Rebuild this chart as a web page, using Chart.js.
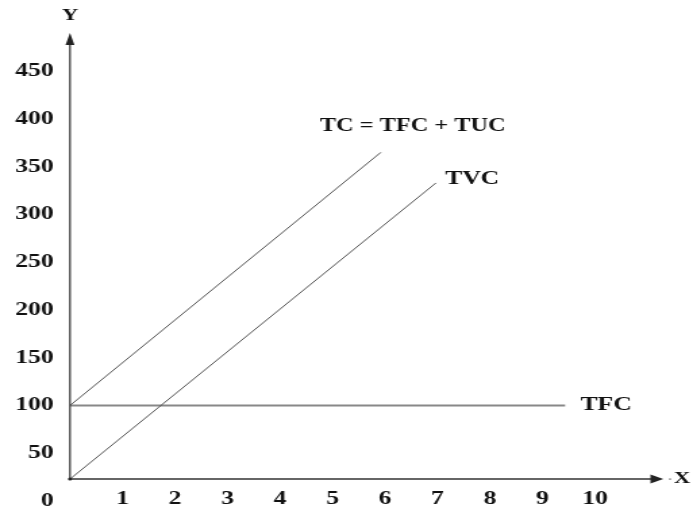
<!DOCTYPE html>
<html><head><meta charset="utf-8">
<script src="https://cdn.jsdelivr.net/npm/chart.js@4/dist/chart.umd.min.js"></script>
<style>
html,body{margin:0;padding:0;background:#fff;overflow:hidden}
#wrap{width:693px;height:513px;overflow:hidden;position:relative}
#c{display:block;transform:scaleX(1.3509);transform-origin:0 0}
</style></head><body>
<div id="wrap"><canvas id="c" width="513" height="513"></canvas></div>
<script>
// tick labels
const xTickValues = [1, 2, 3, 4, 5, 6, 7, 8, 9, 10];
const yTickValues = [0, 50, 100, 150, 200, 250, 300, 350, 400, 450];
// series (quantity X, cost Y)
const tcX  = [0, 5.92];
const tcY  = [100, 365];
const tvcX = [0, 6.97];
const tvcY = [23, 333];
const tfcX = [0, 9.43];
const tfcY = [100, 100];
// the axes cross at this Y value
const axisCrossY = 23;
// curve labels
const labelTexts = ['TC = TFC + TUC', 'TVC', 'TFC'];
const labelX = [6.53, 7.66, 10.21];
const labelY = [392, 337, 100];

const toPts = (xs, ys) => xs.map((v, i) => ({x: v, y: ys[i]}));
const FONT = '"Liberation Serif", "Times New Roman", serif';

const overlay = {
  id: 'overlay',
  afterDatasetsDraw(chart) {
    const {ctx, scales: {x, y}, chartArea} = chart;
    const x0 = x.getPixelForValue(0);
    const y0 = y.getPixelForValue(axisCrossY);
    const top = chartArea.top, right = chartArea.right;
    ctx.save();
    // y axis
    ctx.strokeStyle = '#333'; ctx.lineWidth = 1.2;
    ctx.beginPath(); ctx.moveTo(x0, y0); ctx.lineTo(x0, top + 8); ctx.stroke();
    ctx.fillStyle = '#222';
    ctx.beginPath(); ctx.moveTo(x0, top); ctx.lineTo(x0 - 3.3, top + 12); ctx.lineTo(x0 + 3.3, top + 12); ctx.closePath(); ctx.fill();
    // x axis
    ctx.strokeStyle = '#666'; ctx.lineWidth = 2;
    ctx.beginPath(); ctx.moveTo(x0, y0); ctx.lineTo(right - 6, y0); ctx.stroke();
    ctx.fillStyle = '#222';
    ctx.beginPath(); ctx.moveTo(right, y0); ctx.lineTo(right - 9.5, y0 - 4.5); ctx.lineTo(right - 9.5, y0 + 4.5); ctx.closePath(); ctx.fill();
    // origin dot
    ctx.beginPath(); ctx.arc(x0, y0, 1.5, 0, Math.PI * 2); ctx.fill();
    // small dot before X
    ctx.fillStyle = '#888';
    ctx.beginPath(); ctx.arc(right + 5, y0, 0.9, 0, Math.PI * 2); ctx.fill();
    // axis names
    ctx.fillStyle = '#111';
    ctx.textAlign = 'center'; ctx.textBaseline = 'middle';
    ctx.font = 'bold 17px ' + FONT;
    ctx.fillText('Y', x0, top - 17);
    ctx.fillText('X', right + 14, y0);
    // curve labels
    labelTexts.forEach((t, i) => {
      ctx.font = (i === 0 ? 'bold 18px ' : 'bold 19px ') + FONT;
      ctx.fillText(t, x.getPixelForValue(labelX[i]), y.getPixelForValue(labelY[i]));
    });
    ctx.restore();
  }
};

new Chart(document.getElementById('c'), {
  type: 'scatter',
  data: {
    datasets: [
      {label: 'TC', data: toPts(tcX, tcY), showLine: true, borderColor: '#555', borderWidth: 1, pointRadius: 0},
      {label: 'TVC', data: toPts(tvcX, tvcY), showLine: true, borderColor: '#555', borderWidth: 1, pointRadius: 0},
      {label: 'TFC', data: toPts(tfcX, tfcY), showLine: true, borderColor: '#888', borderWidth: 2, pointRadius: 0}
    ]
  },
  options: {
    responsive: false,
    devicePixelRatio: 1,
    animation: false,
    layout: {padding: {top: 33, bottom: 12, left: 0, right: 22}},
    plugins: {legend: {display: false}, tooltip: {enabled: false}},
    scales: {
      x: {
        type: 'linear', min: 0, max: 11.3,
        position: {y: axisCrossY},
        grid: {display: false, drawTicks: false},
        border: {display: false},
        afterFit: s => { s.height = 0; },
        afterBuildTicks: s => { s.ticks = xTickValues.map(v => ({value: v})); },
        ticks: {autoSkip: false, maxRotation: 0, padding: 9, color: '#111',
                font: {family: FONT, size: 19, weight: 'bold'}}
      },
      y: {
        type: 'linear', min: 0, max: 490,
        grid: {display: false, drawTicks: false},
        border: {display: false},
        afterFit: s => { s.width = 51.8; s.paddingTop = 0; s.paddingBottom = 0; },
        afterBuildTicks: s => { s.ticks = yTickValues.map(v => ({value: v})); },
        ticks: {autoSkip: false, padding: 12, color: '#111',
                font: {family: FONT, size: 19, weight: 'bold'}}
      }
    }
  },
  plugins: [overlay]
});
</script>
</body></html>
